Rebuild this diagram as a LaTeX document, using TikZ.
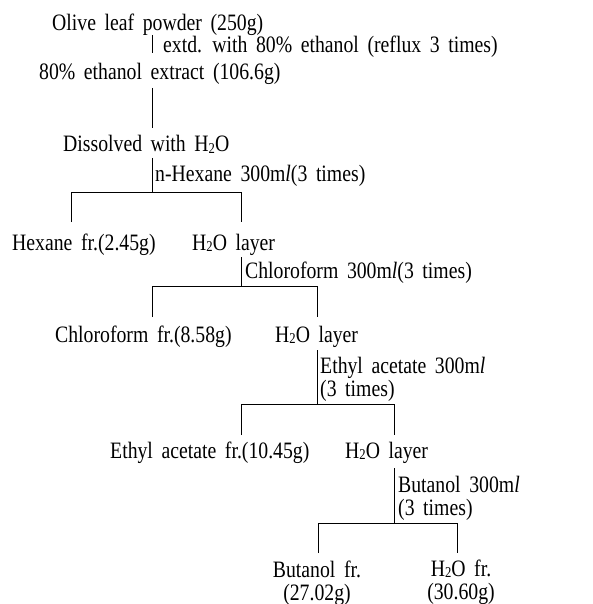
\documentclass[tikz,border=0pt]{standalone}
\usepackage{fontspec}
\setmainfont{Liberation Serif}[FakeStretch=0.84]
\newcommand{\wt}{H\raisebox{-0.08em}{\fontsize{15}{15}\selectfont 2}O}
\newcommand{\mlit}{m\textit{l}}
\newcommand{\lblfont}{\fontsize{23.5}{23}\selectfont\setlength{\spaceskip}{8.6pt}}
\newcommand{\twol}[2]{\begin{tabular}[t]{@{}l@{}}#1\\#2\end{tabular}}
\newcommand{\twoc}[2]{\begin{tabular}[t]{@{}c@{}}#1\\#2\end{tabular}}
\tikzset{
  lbl/.style={inner sep=0pt, anchor=base west, font=\lblfont},
  clbl/.style={lbl, anchor=base},
  conn/.style={line width=0.8pt, black}
}
\begin{document}
\begin{tikzpicture}[x=1pt,y=-1pt]
\useasboundingbox (0,0) rectangle (593,604);
% texts
\node[lbl] (olive) at (52,31) {Olive leaf powder (250g)};
\node[lbl] (extd) at (163,53) {extd. with 80\% ethanol (reflux 3 times)};
\node[lbl] (extract) at (39,80) {80\% ethanol extract (106.6g)};
\node[lbl] (diss) at (63,152) {Dissolved with \wt};
\node[lbl] (hexl) at (155,182) {n-Hexane 300\mlit(3 times)};
\node[lbl] (hexfr) at (12,250) {Hexane fr.(2.45g)};
\node[lbl] (wa) at (192,250) {\wt\ layer};
\node[lbl] (chl) at (245,278) {Chloroform 300\mlit(3 times)};
\node[lbl] (chfr) at (55,342) {Chloroform fr.(8.58g)};
\node[lbl] (wb) at (275,342) {\wt\ layer};
\node[lbl] (eal) at (320,373) {\twol{Ethyl acetate 300\mlit}{(3 times)}};
\node[lbl] (eafr) at (110,458) {Ethyl acetate fr.(10.45g)};
\node[lbl] (wc) at (345,458) {\wt\ layer};
\node[lbl] (bul) at (398,492) {\twol{Butanol 300\mlit}{(3 times)}};
\node[clbl] (bufr) at (317,577) {\twoc{Butanol fr.}{(27.02g)}};
\node[clbl] (wfr) at (461,576) {\twoc{\wt\ fr.}{(30.60g)}};
% branch coordinates
\coordinate (a1) at (152,35);  \coordinate (a2) at (152,53);
\coordinate (b1) at (152,88);  \coordinate (b2) at (152,128);
\coordinate (c1) at (152,158); \coordinate (c2) at (152,192);
\coordinate (cl) at (71,192);  \coordinate (cr) at (241,192);
\coordinate (cle) at (71,222); \coordinate (cre) at (241,222);
\coordinate (d1) at (241,257); \coordinate (d2) at (241,286);
\coordinate (dl) at (152,286); \coordinate (dr) at (317,286);
\coordinate (dle) at (152,317); \coordinate (dre) at (317,317);
\coordinate (e1) at (317,350); \coordinate (e2) at (317,404);
\coordinate (el) at (241,404); \coordinate (er) at (394,404);
\coordinate (ele) at (241,435); \coordinate (ere) at (394,435);
\coordinate (f1) at (394,468); \coordinate (f2) at (394,523);
\coordinate (fl) at (318,523); \coordinate (fr) at (457,523);
\coordinate (fle) at (318,553); \coordinate (fre) at (457,553);
% connectors
\draw[conn] (a1) -- (a2);
\draw[conn] (b1) -- (b2);
\draw[conn] (c1) -- (c2);
\draw[conn] (cle) -- (cl) -- (cr) -- (cre);
\draw[conn] (d1) -- (d2);
\draw[conn] (dle) -- (dl) -- (dr) -- (dre);
\draw[conn] (e1) -- (e2);
\draw[conn] (ele) -- (el) -- (er) -- (ere);
\draw[conn] (f1) -- (f2);
\draw[conn] (fle) -- (fl) -- (fr) -- (fre);
\end{tikzpicture}
\end{document}
